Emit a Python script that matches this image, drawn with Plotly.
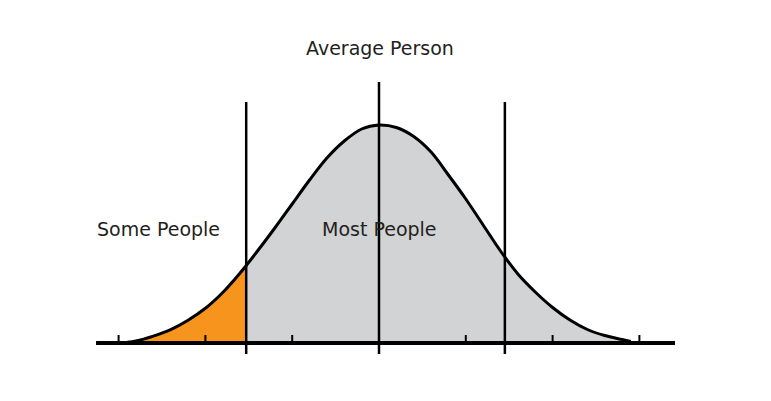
import plotly.graph_objects as go

# Bell curve (x in tick units, y = height relative to the peak of 218)
curve_x = [-2.9, -2.8, -2.6, -2.4, -2.2, -2.0, -1.8, -1.6, -1.53, -1.4, -1.2, -1.0, -0.8, -0.6, -0.4, -0.2, 0.0,
           0.2, 0.4, 0.6, 0.8, 1.0, 1.2, 1.4, 1.6, 1.8, 2.0, 2.2, 2.4, 2.6, 2.8, 2.9]
curve_h = [0.8, 2, 6.9, 13.4, 22.8, 34.7, 50.5, 70, 77.5, 92, 115, 139, 163, 185, 202, 214, 218,
           215.5, 206.5, 191, 168, 144, 118, 92, 69, 51, 35.5, 23, 13.5, 7.5, 3.5, 1.5]
PEAK = 218.0
curve_y = [h / PEAK for h in curve_h]

tick_positions = [-3, -2, -1, 0, 1, 2, 3]
cut_left = -1.53
cut_right = 1.45
center = 0.0

labels = ["Some People", "Most People", "Average Person"]

i_cut = curve_x.index(cut_left)

fig = go.Figure()
fig.add_trace(go.Scatter(x=curve_x[:i_cut + 1], y=curve_y[:i_cut + 1], fill="tozeroy",
                         fillcolor="#f7941d", line=dict(width=0, shape="spline"), mode="lines",
                         hoverinfo="skip"))
fig.add_trace(go.Scatter(x=curve_x[i_cut:], y=curve_y[i_cut:], fill="tozeroy",
                         fillcolor="#d1d3d4", line=dict(width=0, shape="spline"), mode="lines",
                         hoverinfo="skip"))
fig.add_trace(go.Scatter(x=curve_x, y=curve_y, mode="lines",
                         line=dict(color="black", width=3, shape="spline", smoothing=1),
                         hoverinfo="skip"))

px = 1 / PEAK
shapes = []
# baseline
shapes.append(dict(type="line", x0=-3.26, x1=3.41, y0=0, y1=0, line=dict(color="black", width=4)))
for t in tick_positions:
    shapes.append(dict(type="line", x0=t, x1=t, y0=0, y1=8 * px, line=dict(color="black", width=2)))
shapes.append(dict(type="line", x0=cut_left, x1=cut_left, y0=-11 * px, y1=241 * px,
                   line=dict(color="black", width=2.5)))
shapes.append(dict(type="line", x0=cut_right, x1=cut_right, y0=-11 * px, y1=241 * px,
                   line=dict(color="black", width=2.5)))
shapes.append(dict(type="line", x0=center, x1=center, y0=-11 * px, y1=261 * px,
                   line=dict(color="black", width=2.5)))

font = dict(family="DejaVu Sans", size=19, color="#231f20")
annotations = [
    dict(x=-2.535, y=114 * px, text=labels[0], showarrow=False, font=font),
    dict(x=0.01, y=114 * px, text=labels[1], showarrow=False, font=font),
    dict(x=0.01, y=295 * px, text=labels[2], showarrow=False, font=font),
]

fig.update_layout(
    width=771, height=401,
    margin=dict(l=0, r=0, t=0, b=0),
    paper_bgcolor="white", plot_bgcolor="white",
    showlegend=False,
    shapes=shapes, annotations=annotations,
    xaxis=dict(range=[-379 / 86.8, 392 / 86.8], visible=False, fixedrange=True),
    yaxis=dict(range=[-58 * px, 343 * px], visible=False, fixedrange=True),
)
fig.write_html("out.html", config={"displayModeBar": False},
               post_script="document.body.style.margin='0';")
